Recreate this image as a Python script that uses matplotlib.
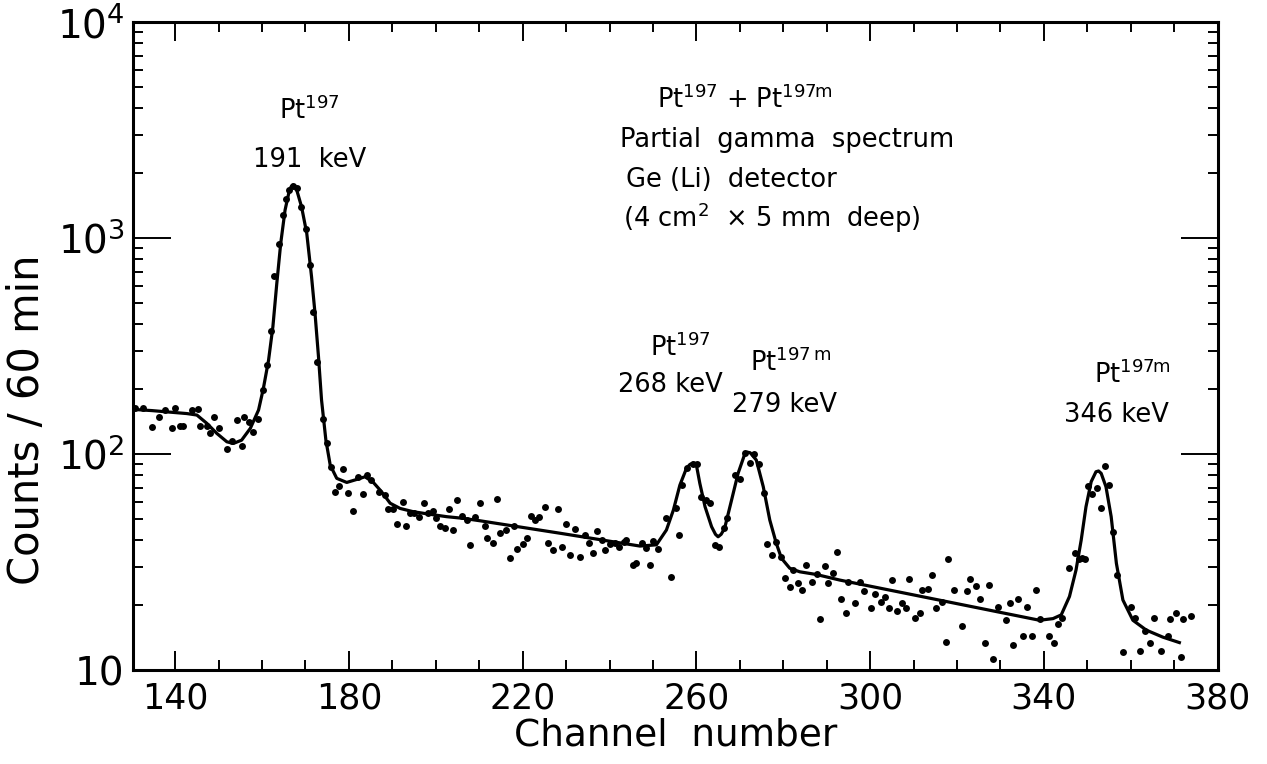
import matplotlib
matplotlib.use("Agg")
import matplotlib.pyplot as plt
from matplotlib.ticker import MultipleLocator, FixedLocator, LogLocator, NullFormatter

# measured spectrum: channel number and counts per 60 min
channel = [
    130.8, 132.7, 134.6, 136.2, 137.7, 139.2, 140.0, 141.0, 141.9, 143.8,
    145.2, 145.8, 147.4, 148.1, 149.0, 150.2, 151.9, 153.0, 154.2, 155.3,
    155.9, 156.9, 158.0, 159.0, 160.2, 161.1, 162.0, 162.8, 163.8, 164.9,
    165.5, 166.3, 167.2, 168.0, 169.0, 170.1, 171.1, 171.8, 172.7, 174.1,
    175.0, 175.9, 176.8, 177.8, 178.7, 179.9, 180.9, 182.2, 183.2, 184.1,
    185.2, 187.0, 188.3, 189.1, 190.1, 191.0, 192.4, 193.1, 194.1, 195.0,
    196.2, 197.3, 198.3, 199.4, 200.0, 201.0, 202.1, 203.1, 204.0, 205.0,
    206.1, 207.1, 207.9, 209.0, 210.2, 211.3, 211.9,
    213.2, 214.2, 214.9, 216.2, 217.1, 218.0, 218.8, 220.0, 221.1, 221.9,
    222.8, 223.7, 225.1, 225.9, 227.1, 228.1, 229.1, 230.0, 231.0, 232.1,
    233.3, 234.3, 235.3, 236.2, 237.1, 238.2, 238.9, 240.1, 241.2, 242.2,
    243.3, 243.9, 245.5, 246.1, 247.4, 248.3, 249.3, 250.1, 251.2, 253.1,
    254.1, 255.2, 256.0, 256.7, 257.8, 259.3, 260.2, 261.0, 262.2, 263.1,
    264.2, 265.2, 266.3, 267.1, 269.0, 270.1, 271.3, 272.3, 273.2, 274.4,
    275.5, 276.3, 277.4, 278.4, 279.4, 280.3, 281.5, 282.3, 283.4, 284.4,
    285.2, 286.7, 287.8, 288.4, 289.6, 290.3, 291.5, 292.4, 293.4, 294.5,
    294.9,
    296.5, 297.6, 298.5, 300.1, 301.2, 302.4, 303.5, 304.3, 305.0, 306.2,
    307.3, 308.3, 309.0, 310.3, 311.4, 311.9, 313.3, 314.3, 315.1, 316.6,
    317.4, 317.9, 319.3, 321.2, 322.4, 323.1, 324.3, 325.2, 326.4, 327.4,
    328.3, 329.4, 331.3, 332.3, 333.0, 334.0, 335.2, 336.1, 337.2, 338.2,
    339.0, 341.2, 342.3, 343.2, 344.2, 345.9, 347.1, 348.1, 348.8, 349.5,
    350.1, 351.1, 352.2, 353.2, 354.1, 355.0, 356.0, 356.8, 358.3, 360.1,
    361.1, 362.2, 363.2, 364.5, 365.3, 367.0, 368.5, 369.1, 370.5, 371.5,
    372.1, 373.8,
]
counts = [
    164, 164, 134, 148, 160, 131.5, 164, 135, 135, 160,
    162, 135, 135, 124.6, 149, 131.5, 106, 115, 143.6, 109,
    149, 141, 127, 146, 199, 258, 372, 667, 938, 1277,
    1510, 1667, 1741, 1698, 1387, 1097, 750, 456, 267, 146,
    113, 87.4, 67, 71, 85, 66.2, 54.7, 78, 65.3, 80,
    75.8, 67, 64.6, 55.4, 55.4, 47.2, 60.2, 46.4, 53.5, 53.5,
    51.3, 59.5, 53.1, 54.7, 50.4, 46.4, 45.3, 55.4, 44.5, 61.2,
    51.6, 49.5, 37.9, 51.3, 59.5, 46.4, 40.7,
    38.9, 61.7, 42.9, 44.5, 32.9, 46.4, 36.3, 38.3, 41.0, 51.6,
    49.5, 50.9, 56.6, 38.9, 35.9, 55.6, 37.0, 47.3, 34.1, 44.8,
    33.2, 42.2, 38.6, 35.0, 44.0, 40.0, 35.9, 38.3, 38.6, 37.2,
    39.3, 40.0, 30.6, 31.4, 38.9, 36.6, 30.6, 39.7, 36.2, 50.7,
    27.0, 56.0, 42.2, 71.8, 85.8, 89.9, 89.7, 63.0, 61.2, 59.5,
    37.9, 37.2, 45.3, 50.4, 80.0, 76.3, 100.7, 90.5, 100, 89.6,
    66.2, 38.3, 34.1, 39.3, 33.5, 26.6, 24.3, 29.0, 25.4, 23.5,
    30.6, 25.5, 27.7, 17.3, 30.4, 25.4, 28.0, 35.3, 21.3, 18.3,
    25.6,
    20.4, 25.6, 23.3, 19.3, 22.5, 20.6, 21.7, 19.4, 26.1, 18.8,
    20.5, 19.3, 26.4, 17.4, 18.4, 23.5, 23.6, 27.5, 19.3, 20.7,
    13.5, 32.5, 23.5, 16.0, 23.3, 26.3, 24.6, 21.3, 13.4, 24.7,
    11.3, 19.5, 17.0, 20.4, 13.1, 21.3, 14.3, 19.5, 14.4, 23.5,
    17.2, 14.4, 13.3, 16.3, 17.5, 29.6, 34.7, 32.5, 33.0, 32.5,
    71.1, 65.3, 69.3, 56.0, 88.3, 71.8, 43.7, 27.5, 12.1, 19.5,
    17.4, 12.3, 15.2, 13.4, 17.4, 12.3, 14.4, 17.2, 18.4, 11.5,
    17.2, 17.7,
]

# hand-drawn fit through the spectrum
fit_channel = [
    130.3, 134.6, 142.7, 145.0, 147.3, 149.6, 151.9, 153.4, 155.3, 157.3,
    159.2, 160.3, 161.5, 162.5, 163.4, 164.3, 165.3, 166.3, 166.7, 167.1,
    167.5, 168.0, 169.1, 170.3, 171.4, 172.2, 173.0, 173.7, 174.7, 175.7,
    177.2, 179.5, 181.8, 183.7, 185.6, 187.5, 189.5, 191.8, 194.8, 198.7,
    202.5, 206.3, 210.2, 228.6, 247.0, 250.8, 253.1, 254.7, 256.2, 257.7,
    258.5, 259.3, 260.0, 260.8, 262.0, 263.5, 264.4, 265.0, 265.7, 266.5,
    268.1, 269.6, 271.1, 271.8, 272.4, 273.8, 275.4, 276.9, 278.4, 279.6,
    281.5, 283.8, 287.6, 293.0, 339.0, 342.1, 344.0, 345.9, 347.4, 348.6,
    349.7, 350.9, 352.0, 352.6, 353.2, 354.3, 355.5, 356.7, 358.2, 360.5,
    363.6, 367.4, 371.2,
]
fit_counts = [
    161, 159, 154, 151.6, 138.7, 124.6, 114, 112, 116, 131.5,
    160, 201, 272, 389, 617, 945, 1348, 1667, 1730, 1759,
    1745, 1667, 1397, 1051, 662, 448, 282, 178, 116, 88.9,
    77.2, 73.9, 76.3, 78.5, 74, 67, 59.2, 56.0, 54.1, 52.6,
    51.3, 50.4, 49.1, 43.0, 37.5, 38.0, 44.5, 55, 71.8, 85.8,
    89.5, 91, 89, 73.1, 57, 46.1, 42.5, 41.4, 42.5, 45.3,
    61.2, 81.4, 99.5, 102, 101.4, 93.8, 70.6, 49.5, 38.6, 32.9,
    29.6, 28.5, 27.7, 26.1, 17.0, 17.3, 18.0, 21.9, 29.0, 40.0,
    57, 74.5, 82.8, 83.5, 81.4, 70.6, 51.3, 31.2, 21.1, 17.0,
    15.3, 14.2, 13.4,
]

x_ticks = [140, 180, 220, 260, 300, 340, 380]
y_ticks = [10, 100, 1000, 10000]
y_tick_labels = ["10", "$10^2$", "$10^3$", "$10^4$"]

plt.rcParams["font.family"] = "DejaVu Sans"
plt.rcParams["mathtext.default"] = "regular"

fig = plt.figure(figsize=(12.67, 7.64), dpi=100)
ax = fig.add_axes([0.105, 0.123, 0.856, 0.848])

ax.plot(fit_channel, fit_counts, color="black", lw=2.3, zorder=2,
        solid_joinstyle="round")
ax.plot(channel, counts, "o", color="black", ms=5.0, mec="none", zorder=3)

ax.set_yscale("log")
ax.set_xlim(130.3, 380)
ax.set_ylim(10, 1e4)

ax.xaxis.set_major_locator(FixedLocator(x_ticks))
ax.xaxis.set_minor_locator(MultipleLocator(10))
ax.set_xticklabels([str(t) for t in x_ticks])
ax.yaxis.set_major_locator(FixedLocator(y_ticks))
ax.yaxis.set_minor_locator(LogLocator(base=10, subs=range(2, 10)))
ax.yaxis.set_minor_formatter(NullFormatter())
ax.set_yticklabels(y_tick_labels)

ax.tick_params(which="both", direction="in", top=True, right=True, width=1.4)
ax.tick_params(axis="x", which="major", length=14, labelsize=25, pad=8)
ax.tick_params(axis="x", which="minor", length=7)
ax.tick_params(axis="y", which="major", length=27, labelsize=28, pad=6)
ax.tick_params(axis="y", which="minor", length=7)
for sp in ax.spines.values():
    sp.set_linewidth(2.2)

ax.set_xlabel("Channel  number", fontsize=27, labelpad=2)
ax.set_ylabel("Counts / 60 min", fontsize=30)
ax.yaxis.set_label_coords(-0.078, 0.386)

txt = dict(transform=ax.transAxes, ha="center", va="center", fontsize=18.5)
ax.text(0.163, 0.864, "Pt$^{197}$", **txt)
ax.text(0.163, 0.787, "191  keV", **txt)
ax.text(0.564, 0.880, "Pt$^{197}$ + Pt$^{197m}$", **txt)
ax.text(0.603, 0.818, "Partial  gamma  spectrum", **txt)
ax.text(0.552, 0.756, "Ge (Li)  detector", **txt)
ax.text(0.589, 0.698, "(4 cm$^2$  × 5 mm  deep)", **txt)
ax.text(0.505, 0.497, "Pt$^{197}$", **txt)
ax.text(0.495, 0.440, "268 keV", **txt)
ax.text(0.606, 0.475, "Pt$^{197\\,m}$", **txt)
ax.text(0.601, 0.409, "279 keV", **txt)
ax.text(0.921, 0.455, "Pt$^{197m}$", **txt)
ax.text(0.907, 0.394, "346 keV", **txt)

fig.savefig("out.png", dpi=100)
